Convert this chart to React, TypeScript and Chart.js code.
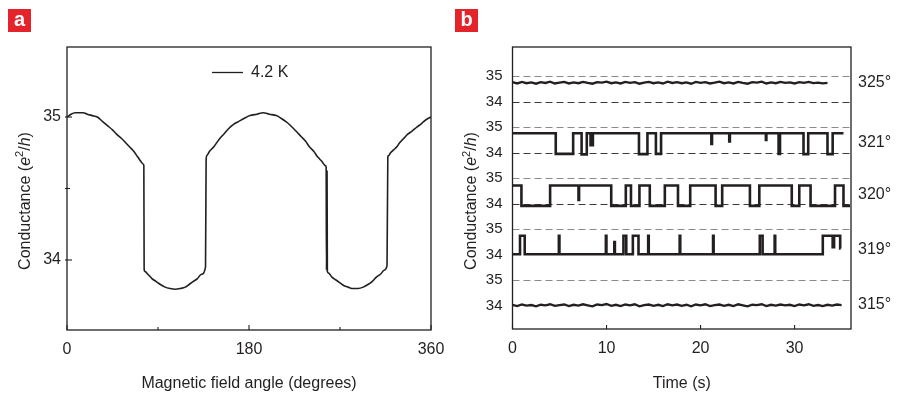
import React, { useEffect, useRef } from 'react';
import { Chart, registerables } from 'chart.js';
Chart.register(...registerables);

const FONT = '"Liberation Sans", Arial, Helvetica, sans-serif';
const INK = '#231f20';

// ---------- Panel a : conductance vs magnetic field angle ----------
const angleDeg = [0, 4, 8, 12, 16, 20, 25, 30, 35, 40, 45, 49, 54, 58, 62, 66, 70, 73, 75.5, 76, 76.3, 77, 80, 84, 88, 92, 97, 102, 107, 112, 117, 121, 125, 129, 133, 137, 137.6, 138.3, 141, 145, 150, 155, 160, 165, 170, 175, 181, 188, 194, 200, 207, 212, 218, 224, 228, 232, 236, 240, 244, 248, 252, 255.5, 256.3, 256.6, 257.2, 257.5, 258.4, 262, 266, 270, 274, 278, 283, 288, 293, 298, 302, 306, 310, 314, 316.5, 317.3, 318, 320, 323, 326, 329, 333, 337, 341, 346, 350, 353, 357, 360];
const conductanceA = [35.0, 35.02, 35.03, 35.03, 35.03, 35.02, 35.01, 35.0, 34.97, 34.94, 34.91, 34.88, 34.85, 34.82, 34.79, 34.76, 34.72, 34.69, 34.67, 34.66, 33.93, 33.92, 33.9, 33.87, 33.85, 33.83, 33.81, 33.8, 33.795, 33.8, 33.81, 33.83, 33.85, 33.87, 33.9, 33.95, 34.7, 34.73, 34.76, 34.79, 34.84, 34.88, 34.92, 34.95, 34.97, 34.99, 35.01, 35.02, 35.03, 35.02, 35.01, 34.99, 34.96, 34.92, 34.89, 34.86, 34.83, 34.79, 34.76, 34.72, 34.69, 34.66, 34.65, 33.93, 34.62, 33.92, 33.91, 33.88, 33.86, 33.84, 33.82, 33.81, 33.8, 33.8, 33.81, 33.83, 33.85, 33.88, 33.9, 33.93, 33.96, 34.72, 34.73, 34.75, 34.77, 34.79, 34.82, 34.85, 34.88, 34.9, 34.93, 34.95, 34.97, 34.99, 35.0];
const legendLabelA = '4.2 K';
const xTitleA = 'Magnetic field angle (degrees)';
const xTicksA = [0, 180, 360];
const xMinorTicksA = [90, 270];
const yTicksA = [34, 35];
const yMinorTicksA = [34.5];

// ---------- Panel b : conductance vs time, five angles ----------
const xTitleB = 'Time (s)';
const xTicksB = [0, 10, 20, 30];
const angleLabels = ['325°', '321°', '320°', '319°', '315°'];
const angleLabelLevels = [34.75, 34.4, 34.38, 34.21, 34.03];
const traceOffsets = [0, 2, 4, 6, 8];
const levelTicks = [35, 34];
const dashLevels = [[35, 34], [35, 34], [35, 34], [35], [35]];
const sampleStep = 0.5;

const g325 = [34.77, 34.72, 34.78, 34.73, 34.76, 34.71, 34.77, 34.74, 34.79, 34.72,
  34.75, 34.78, 34.72, 34.76, 34.73, 34.78, 34.74, 34.71, 34.77, 34.75,
  34.79, 34.73, 34.76, 34.72, 34.78, 34.74, 34.77, 34.71, 34.75, 34.78,
  34.73, 34.76, 34.72, 34.79, 34.74, 34.77, 34.73, 34.76, 34.71, 34.78,
  34.74, 34.77, 34.72, 34.75, 34.79, 34.73, 34.76, 34.72, 34.78, 34.74,
  34.71, 34.77, 34.75, 34.79, 34.72, 34.76, 34.73, 34.78, 34.74, 34.76,
  34.72, 34.77, 34.74, 34.78, 34.73, 34.75, 34.72, 34.74];

const t321 = [0, 4.6, 6.45, 7.35, 7.9, 8.3, 8.55, 13.45, 14.35, 15.25, 15.8, 21.15, 21.22, 23.05, 23.12, 26.95, 27.0, 28.3, 28.45, 30.95, 31.45, 33.5, 34.05, 35.2];
const g321 = [34.77, 33.96, 34.77, 33.94, 34.77, 34.3, 34.77, 33.95, 34.77, 33.96, 34.77, 34.35, 34.77, 34.45, 34.77, 34.5, 34.77, 33.96, 34.77, 33.95, 34.77, 33.95, 34.77, 34.77];

const t320 = [0, 0.95, 4.0, 7.02, 7.08, 10.5, 12.05, 12.6, 13.5, 14.6, 16.2, 17.6, 18.9, 21.6, 22.3, 25.25, 26.25, 29.7, 30.5, 31.7, 34.3, 35.2, 35.9];
const g320 = [34.72, 33.92, 34.72, 34.15, 34.72, 33.92, 34.72, 33.92, 34.72, 33.92, 34.72, 33.92, 34.72, 33.92, 34.72, 33.92, 34.72, 33.92, 34.72, 33.92, 34.72, 33.92, 33.92];

const t319 = [0, 0.8, 1.3, 4.93, 4.99, 9.93, 9.99, 10.83, 10.89, 11.8, 12.1, 12.8, 13.4, 14.43, 14.49, 17.78, 17.84, 21.33, 21.39, 26.3, 26.6, 27.88, 27.94, 33.0, 34.05, 34.2, 34.85, 34.9];
const g319 = [34.02, 34.75, 34.02, 34.75, 34.02, 34.75, 34.02, 34.5, 34.02, 34.75, 34.02, 34.75, 34.02, 34.75, 34.02, 34.75, 34.02, 34.75, 34.02, 34.75, 34.02, 34.75, 34.02, 34.75, 34.3, 34.75, 34.25, 34.25];

const g315 = [34.04, 33.99, 34.05, 34.01, 34.03, 33.98, 34.04, 34.02, 34.06, 34.0,
  34.03, 34.05, 33.99, 34.04, 34.01, 34.06, 34.02, 33.98, 34.05, 34.03,
  34.07, 34.0, 34.04, 33.99, 34.05, 34.02, 34.06, 33.98, 34.03, 34.05,
  34.0, 34.04, 33.99, 34.06, 34.02, 34.05, 34.0, 34.04, 33.98, 34.05,
  34.02, 34.06, 33.99, 34.03, 34.05, 34.0, 34.04, 33.99, 34.06, 34.02,
  33.98, 34.04, 34.03, 34.06, 33.99, 34.04, 34.01, 34.05, 34.02, 34.04,
  33.99, 34.05, 34.02, 34.06, 34.0, 34.03, 33.99, 34.04, 34.01, 34.05,
  34.03];

type TickSpec = { v: number; len: number };
type FrameCfg = {
  xTicks: TickSpec[];
  yTicks: TickSpec[];
  dashes?: { v: number; color: string }[];
  yTitle: { x: number; y: number; size: number };
  legend?: { x1: number; x2: number; y: number; text: string; size: number };
};

function drawYTitle(ctx: CanvasRenderingContext2D, cx: number, cy: number, size: number) {
  const sup = Math.round(size * 0.68);
  const parts = [
    { t: 'Conductance (', f: `${size}px ${FONT}`, dy: 0 },
    { t: 'e', f: `italic ${size}px ${FONT}`, dy: 0 },
    { t: '2', f: `${sup}px ${FONT}`, dy: -size * 0.4 },
    { t: '/', f: `${size}px ${FONT}`, dy: 0 },
    { t: 'h', f: `italic ${size}px ${FONT}`, dy: 0 },
    { t: ')', f: `${size}px ${FONT}`, dy: 0 },
  ];
  ctx.save();
  ctx.translate(cx, cy);
  ctx.rotate(-Math.PI / 2);
  ctx.fillStyle = INK;
  ctx.textBaseline = 'alphabetic';
  ctx.textAlign = 'left';
  let total = 0;
  const widths = parts.map((p) => {
    ctx.font = p.f;
    const w = ctx.measureText(p.t).width;
    total += w;
    return w;
  });
  let x = -total / 2;
  const base = size * 0.36;
  parts.forEach((p, i) => {
    ctx.font = p.f;
    ctx.fillText(p.t, x, base + p.dy);
    x += widths[i];
  });
  ctx.restore();
}

function framePlugin(cfg: FrameCfg) {
  return {
    id: 'frame',
    beforeDatasetsDraw(chart: any) {
      const { ctx, chartArea: a, scales } = chart;
      if (!cfg.dashes) return;
      ctx.save();
      ctx.lineWidth = 1;
      ctx.setLineDash([7, 4]);
      cfg.dashes.forEach((d) => {
        const y = Math.round(scales.y.getPixelForValue(d.v)) + 0.5;
        ctx.strokeStyle = d.color;
        ctx.beginPath();
        ctx.moveTo(a.left, y);
        ctx.lineTo(a.right, y);
        ctx.stroke();
      });
      ctx.restore();
    },
    afterDatasetsDraw(chart: any) {
      const { ctx, chartArea: a, scales } = chart;
      ctx.save();
      ctx.strokeStyle = INK;
      ctx.lineWidth = 1.3;
      ctx.setLineDash([]);
      ctx.strokeRect(a.left, a.top, a.right - a.left, a.bottom - a.top);
      ctx.lineWidth = 1.1;
      cfg.xTicks.forEach((t) => {
        const x = scales.x.getPixelForValue(t.v);
        ctx.beginPath();
        ctx.moveTo(x, a.bottom);
        ctx.lineTo(x, a.bottom - t.len);
        ctx.stroke();
      });
      cfg.yTicks.forEach((t) => {
        const y = scales.y.getPixelForValue(t.v);
        ctx.beginPath();
        ctx.moveTo(a.left - 2, y);
        ctx.lineTo(a.left + t.len, y);
        ctx.stroke();
      });
      if (cfg.legend) {
        const L = cfg.legend;
        ctx.lineWidth = 1.3;
        ctx.beginPath();
        ctx.moveTo(L.x1, L.y);
        ctx.lineTo(L.x2, L.y);
        ctx.stroke();
        ctx.fillStyle = INK;
        ctx.font = `${L.size}px ${FONT}`;
        ctx.textBaseline = 'middle';
        ctx.textAlign = 'left';
        ctx.fillText(L.text, L.x2 + 8, L.y);
      }
      drawYTitle(ctx, cfg.yTitle.x, cfg.yTitle.y, cfg.yTitle.size);
      ctx.restore();
    },
  };
}

const fitX = (h: number) => (s: any) => { s.height = h; s.paddingLeft = 0; s.paddingRight = 0; };
const fitY = (w: number) => (s: any) => { s.width = w; s.paddingTop = 0; s.paddingBottom = 0; };

function PanelA() {
  const ref = useRef<HTMLCanvasElement>(null);
  useEffect(() => {
    const chart = new Chart(ref.current!, {
      type: 'line',
      data: {
        datasets: [{
          label: legendLabelA,
          data: angleDeg.map((x, i) => ({ x, y: conductanceA[i] })),
          borderColor: INK,
          borderWidth: 1.6,
          pointRadius: 0,
          cubicInterpolationMode: 'monotone',
          fill: false,
        }],
      },
      options: {
        responsive: false,
        animation: false,
        devicePixelRatio: 1,
        layout: { padding: { top: 47, right: 19, left: 0, bottom: 0 } },
        plugins: { legend: { display: false }, tooltip: { enabled: false } },
        scales: {
          x: {
            type: 'linear', min: 0, max: 360,
            grid: { display: false, drawTicks: false },
            border: { display: false },
            afterBuildTicks: (s: any) => { s.ticks = xTicksA.map((v) => ({ value: v })); },
            afterFit: fitX(63),
            ticks: { font: { family: FONT, size: 16 }, color: INK, padding: 10, maxRotation: 0, autoSkip: false },
            title: { display: true, text: xTitleA, font: { family: FONT, size: 16 }, color: INK, padding: { top: 0, bottom: 0 } },
          },
          y: {
            type: 'linear', min: 33.51, max: 35.49,
            grid: { display: false, drawTicks: false },
            border: { display: false },
            afterBuildTicks: (s: any) => { s.ticks = yTicksA.map((v) => ({ value: v })); },
            afterFit: fitY(67),
            ticks: { font: { family: FONT, size: 16 }, color: INK, padding: 6, autoSkip: false },
          },
        },
      } as any,
      plugins: [framePlugin({
        xTicks: [...xTicksA.map((v) => ({ v, len: 5 })), ...xMinorTicksA.map((v) => ({ v, len: 3 }))],
        yTicks: [...yTicksA.map((v) => ({ v, len: 5 })), ...yMinorTicksA.map((v) => ({ v, len: 3 }))],
        yTitle: { x: 24, y: 201, size: 16 },
        legend: { x1: 212, x2: 243, y: 72.5, text: legendLabelA, size: 16 },
      })],
    });
    return () => chart.destroy();
  }, []);
  return <canvas ref={ref} width={450} height={393} style={{ position: 'absolute', left: 0, top: 0 }} />;
}

function PanelB() {
  const ref = useRef<HTMLCanvasElement>(null);
  useEffect(() => {
    const sets = [
      { t: g325.map((_, i) => i * sampleStep), g: g325, stepped: false },
      { t: t321, g: g321, stepped: true },
      { t: t320, g: g320, stepped: true },
      { t: t319, g: g319, stepped: true },
      { t: g315.map((_, i) => i * sampleStep), g: g315, stepped: false },
    ];
    const yTickVals = traceOffsets.flatMap((o) => levelTicks.map((l) => l - o));
    const yTickText = traceOffsets.flatMap(() => levelTicks.map((l) => String(l)));
    const angleVals = angleLabelLevels.map((l, k) => l - traceOffsets[k]);
    const dashes = dashLevels.flatMap((ls, k) => ls.map((l) => ({ v: l - traceOffsets[k], color: l === 35 ? '#8a8a8a' : '#3a3a3a' })));
    const chart = new Chart(ref.current!, {
      type: 'line',
      data: {
        datasets: sets.map((s, k) => ({
          label: angleLabels[k],
          data: s.t.map((x, i) => ({ x, y: s.g[i] - traceOffsets[k] })),
          borderColor: INK,
          borderWidth: s.stepped ? 2.6 : 2.3,
          pointRadius: 0,
          tension: 0,
          stepped: s.stepped ? 'before' : false,
          fill: false,
        })),
      },
      options: {
        responsive: false,
        animation: false,
        devicePixelRatio: 1,
        layout: { padding: { top: 47, right: 0, left: 0, bottom: 0 } },
        plugins: { legend: { display: false }, tooltip: { enabled: false } },
        scales: {
          x: {
            type: 'linear', min: 0, max: 36,
            grid: { display: false, drawTicks: false },
            border: { display: false },
            afterBuildTicks: (s: any) => { s.ticks = xTicksB.map((v) => ({ value: v })); },
            afterFit: fitX(64),
            ticks: { font: { family: FONT, size: 16 }, color: INK, padding: 10, maxRotation: 0, autoSkip: false },
            title: { display: true, text: xTitleB, font: { family: FONT, size: 16 }, color: INK, padding: { top: 0, bottom: 0 } },
          },
          y: {
            type: 'linear', min: 25.09, max: 36.15,
            grid: { display: false, drawTicks: false },
            border: { display: false },
            afterBuildTicks: (s: any) => { s.ticks = yTickVals.map((v) => ({ value: v })); },
            afterFit: fitY(62.5),
            ticks: {
              font: { family: FONT, size: 15 }, color: INK, padding: 10, autoSkip: false,
              callback: (_v: any, i: number) => yTickText[i],
            },
          },
          y2: {
            type: 'linear', position: 'right', min: 25.09, max: 36.15,
            grid: { display: false, drawTicks: false },
            border: { display: false },
            afterBuildTicks: (s: any) => { s.ticks = angleVals.map((v) => ({ value: v })); },
            afterFit: fitY(51),
            ticks: {
              font: { family: FONT, size: 16 }, color: INK, padding: 7, autoSkip: false,
              callback: (_v: any, i: number) => angleLabels[i],
            },
          },
        },
      } as any,
      plugins: [framePlugin({
        xTicks: xTicksB.map((v) => ({ v, len: 4 })),
        yTicks: [],
        dashes,
        yTitle: { x: 20.5, y: 201, size: 16 },
      })],
    });
    return () => chart.destroy();
  }, []);
  return <canvas ref={ref} width={452} height={393} style={{ position: 'absolute', left: 450, top: 0 }} />;
}

const badge: React.CSSProperties = {
  position: 'absolute', top: 9, width: 23, height: 23, background: '#e4232b', color: '#fff',
  fontFamily: FONT, fontWeight: 'bold', fontSize: 20, lineHeight: '21px', textAlign: 'center',
};

export default function App() {
  return (
    <div style={{ position: 'absolute', left: 0, top: 0, width: 902, height: 393, background: '#fff', overflow: 'hidden' }}>
      <PanelA />
      <PanelB />
      <div style={{ ...badge, left: 8 }}>a</div>
      <div style={{ ...badge, left: 455 }}>b</div>
    </div>
  );
}
